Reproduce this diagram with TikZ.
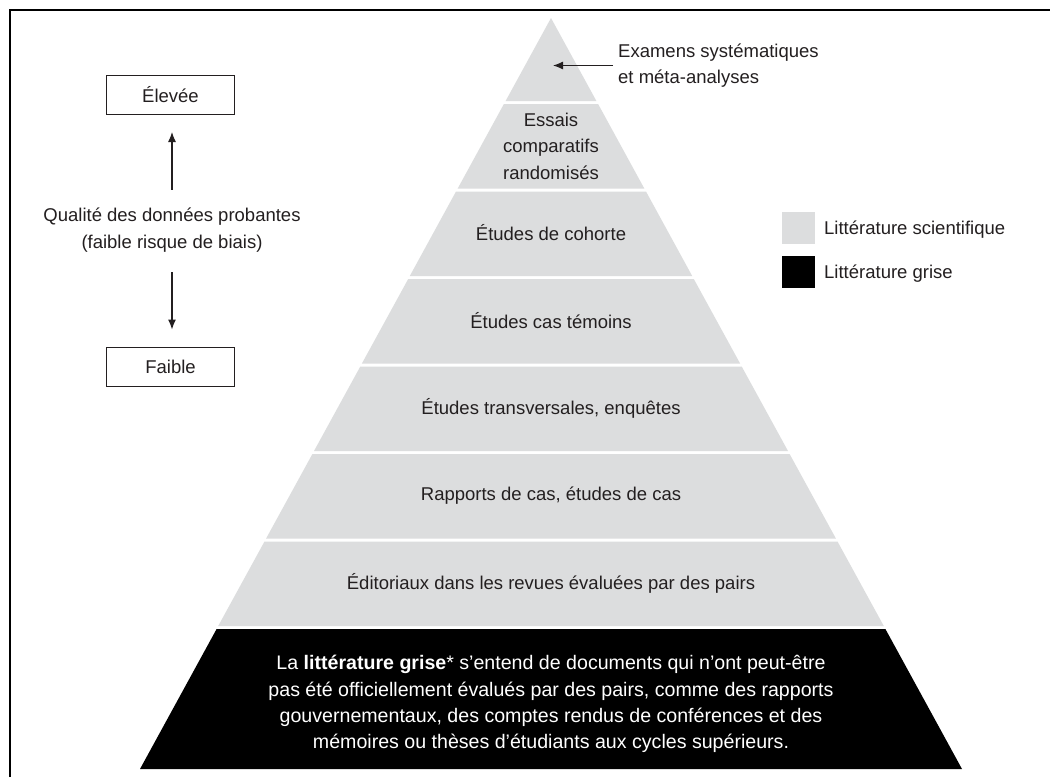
\documentclass[tikz,border=0pt]{standalone}
\usepackage{fontspec}
\setmainfont{Liberation Sans}
\usetikzlibrary{arrows.meta}
\definecolor{lit}{RGB}{220,221,222}
\definecolor{txt}{RGB}{35,31,32}
\begin{document}
\begin{tikzpicture}[x=1pt,y=-1pt,
  lbl/.style={font=\fontsize{18.5}{26.5}\selectfont, text=txt, align=center, inner sep=0pt},
  graylbl/.style={lbl, font=\fontsize{19.6}{26.3}\selectfont, text=white},
  boxlbl/.style={lbl, draw=txt, line width=1pt, minimum width=128pt, minimum height=39pt},
  swatch/.style={minimum width=33pt, minimum height=32pt, inner sep=0pt, draw=none},
  arr/.style={-{Latex[length=10pt,width=8pt]}, line width=1.2pt, draw=txt}]
\useasboundingbox (0,0) rectangle (1050,777);
\fill[white] (0,0) rectangle (1050,777);
\draw[line width=1.6pt] (10,777) -- (10,10) -- (1050,10);
% pyramid layers
\fill[lit] (551,18) -- (596.4,101) -- (505.6,101) -- cycle;
\fill[lit] (503.9,104) -- (598.1,104) -- (644.3,188.5) -- (457.7,188.5) -- cycle;
\fill[lit] (456,191.5) -- (646,191.5) -- (692.2,276) -- (409.8,276) -- cycle;
\fill[lit] (408.2,279) -- (693.8,279) -- (740.1,363.5) -- (361.9,363.5) -- cycle;
\fill[lit] (360.3,366.5) -- (741.7,366.5) -- (788,451) -- (314,451) -- cycle;
\fill[lit] (312.4,454) -- (789.6,454) -- (835.9,538.5) -- (266.1,538.5) -- cycle;
\fill[lit] (264.5,541.5) -- (837.5,541.5) -- (883.8,626) -- (218.2,626) -- cycle;
\fill[black] (216.6,629) -- (885.4,629) -- (962,769) -- (140,769) -- cycle;
% layer labels
\node[lbl] (l2) at (551,146) {Essais\\comparatifs\\randomisés};
\node[lbl] (l3) at (551,233) {Études de cohorte};
\node[lbl] (l4) at (551,321) {Études cas témoins};
\node[lbl] (l5) at (551,408) {Études transversales, enquêtes};
\node[lbl] (l6) at (551,496) {Rapports de cas, études de cas};
\node[lbl] (l7) at (551,583) {Éditoriaux dans les revues évaluées par des pairs};
\node[graylbl] (l8) at (551,704) {La \textbf{littérature grise}* s’entend de documents qui n’ont peut-être\\pas été officiellement évalués par des pairs, comme des rapports\\gouvernementaux, des comptes rendus de conférences et des\\mémoires ou thèses d’étudiants aux cycles supérieurs.};
% top callout
\node[lbl, align=left, anchor=west] (ex) at (618,65.5) {Examens systématiques\\et méta-analyses};
\coordinate (apex) at (553,65.5);
\draw[arr, shorten <=5pt] (ex.west) -- (apex);
% quality scale
\node[boxlbl] (hi) at (170.5,94.5) {Élevée};
\node[lbl] (q) at (172,230) {Qualité des données probantes\\(faible risque de biais)};
\node[boxlbl] (lo) at (170.5,367) {Faible};
\draw[arr, shorten <=18pt, shorten >=17.5pt] (q.north -| 172,0) -- (hi.south -| 172,0);
\draw[arr, shorten <=20pt, shorten >=17.5pt] (q.south -| 172,0) -- (lo.north -| 172,0);
% legend
\node[swatch, fill=lit] (sw1) at (798.5,228) {};
\node[lbl, anchor=base west] (t1) at (824,234.5) {Littérature scientifique};
\node[swatch, fill=black] (sw2) at (798.5,272) {};
\node[lbl, anchor=base west] (t2) at (824,278.5) {Littérature grise};
\end{tikzpicture}
\end{document}
